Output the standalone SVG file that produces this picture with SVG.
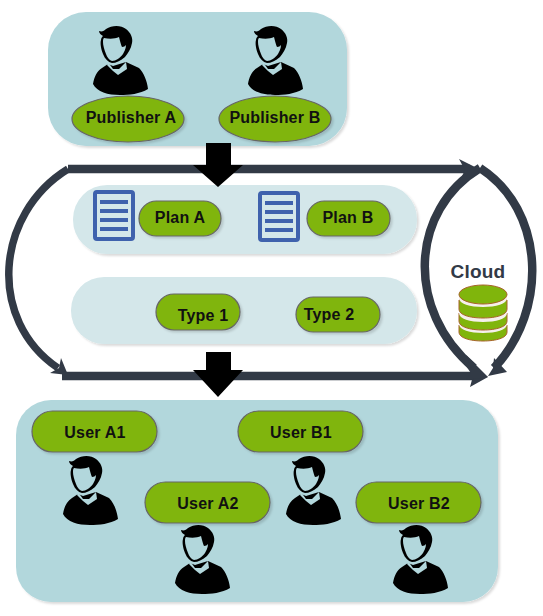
<svg xmlns="http://www.w3.org/2000/svg" width="543" height="616" viewBox="0 0 543 616">
<style>
.t{font-family:"Liberation Sans",Arial,sans-serif;font-size:16px;font-weight:700;fill:#111;text-anchor:middle;letter-spacing:.2px}
.panel{fill:#b2d7dc;filter:url(#s)}
.lp{fill:#d4e7ea;filter:url(#s)}
.g{fill:#80b50c;stroke:#666;stroke-width:1.2;filter:url(#s)}
.c{fill:none;stroke:#323a46;stroke-width:8.5}
.head{fill:#323a46}
.big{fill:#000}
.doc{fill:#d4e7ea;stroke:#3f62ad;stroke-width:4}
.dl{stroke:#3f62ad;stroke-width:4}
.db{fill:#80b50c;stroke:#a8632a;stroke-width:1}
.sl{fill:#f5f0ec;stroke:none}
</style>
<defs>
<filter id="s" x="-10%" y="-10%" width="125%" height="125%"><feDropShadow dx="2" dy="2" stdDeviation="1" flood-color="#000" flood-opacity=".14"/></filter>
<g id="person">
<path fill="#000" d="M0 58C1 51 4 45 9 42L15 38L20 40L33 36L46 42C51 47 54 55 55 63C47 68 36 69 27 69C15 69 4 66 0 58Z"/>
<path fill="#b2d7dc" d="M15 36L20 43L26 43L33 36L34 43L25 49L20 45L14 39Z"/>
<path fill="#000" d="M6 5C9 6 11 5 13 3C19-1 28-1 33 3C38 7 40 12 39 17C38 23 35 27 32 31C27 35 23 37 19 37C15 36 12 33 10 28C8 23 7 17 8 14C8 12 9 11 10 10C8 9 6 7 6 5Z"/>
<path fill="#b2d7dc" d="M11 12C16 13 22 13 26 11C27 15 28 19 29 21C31 21 32 20 33 19C33 23 31 26 30 28C27 32 23 35 19 35C16 34 14 31 13 28C11 23 10 19 10 16C10 14 10 13 11 12Z"/>
</g>
<g id="doc">
<rect class="doc" x="2" y="2" width="38" height="47" rx="2"/>
<path class="dl" d="M7 12H35M7 21H35M7 30H35M7 39H35"/>
</g>
</defs>

<g id="publishers">
<rect class="panel" x="48" y="12" width="299" height="134" rx="38"/>
</g>
<g id="plans-panel"><rect class="lp" x="73" y="185" width="344" height="69" rx="34"/></g>
<g id="types-panel"><rect class="lp" x="71" y="277" width="346" height="67" rx="33"/></g>
<g id="users">
<rect class="panel" x="16" y="400" width="482" height="202" rx="35"/>
</g>

<g id="connectors">
<path class="c" d="M68 169H470"/>
<path class="head" d="M459 159L481 170L462 176L465 170Z"/>
<path class="c" style="stroke-width:7.5" d="M68 169C-5 214-13 320 58 368"/>
<path class="head" d="M61 358L68 375L50 373L59 368Z"/>
<path class="c" d="M62 376H476"/>
<path class="head" d="M466 366L488 377L470 387L473 376Z"/>
<path class="c" d="M480 168C410 210 405 310 474 368"/>
<path class="head" d="M466 355L488 377L466 380L472 370Z"/>
<path class="c" d="M480 168C545 210 549 310 494 368"/>
<path class="head" d="M494 358L507 372L488 376L493 368Z"/>
<path class="big" d="M206 143H231V165H243L218 187L193 165H206Z"/>
<path class="big" d="M206 352H231V370H243L218 397L193 370H206Z"/>
</g>

<g id="publisher-a"><use href="#person" x="93" y="26"/><ellipse class="g" cx="128" cy="119" rx="56" ry="23"/><text class="t" x="131" y="123">Publisher A</text></g>
<g id="publisher-b"><use href="#person" x="248" y="26"/><ellipse class="g" cx="275" cy="119" rx="56" ry="23"/><text class="t" x="275" y="123">Publisher B</text></g>

<g id="plan-a"><use href="#doc" x="93" y="190"/><rect class="g" x="139" y="201" width="82" height="35" rx="17.5"/><text class="t" x="180" y="223">Plan A</text></g>
<g id="plan-b"><use href="#doc" x="258" y="191"/><rect class="g" x="307" y="201" width="83" height="35" rx="17.5"/><text class="t" x="348" y="223">Plan B</text></g>
<g id="type-1"><rect class="g" x="156" y="294" width="84" height="36" rx="18"/><text class="t" x="203" y="321">Type 1</text></g>
<g id="type-2"><rect class="g" x="296" y="297" width="84" height="35" rx="17.5"/><text class="t" x="329" y="320">Type 2</text></g>

<g id="cloud">
<text class="t" x="478" y="278" style="font-size:19px;fill:#323a46">Cloud</text>
<path class="db" d="M459 325V332C459 338 470 341 483 341C496 341 507 338 507 332V325Z"/>
<path class="sl" d="M459 318V324C459 330 470 333 483 333C496 333 507 330 507 324V318Z"/>
<path class="db" d="M459 313V321C459 327 470 330 483 330C496 330 507 327 507 321V313Z"/>
<path class="sl" d="M459 306V313C459 319 470 322 483 322C496 322 507 319 507 313V306Z"/>
<path class="db" d="M459 300V309C459 315 470 318 483 318C496 318 507 315 507 309V300Z"/>
<path class="sl" d="M459 294V298C459 304 470 307 483 307C496 307 507 304 507 298V294Z"/>
<ellipse class="db" cx="483" cy="294.5" rx="24" ry="9.5"/>
</g>

<g id="user-a1"><use href="#person" x="63" y="456"/><rect class="g" x="32" y="411" width="125" height="41" rx="20.5"/><text class="t" x="95" y="438">User A1</text></g>
<g id="user-a2"><use href="#person" x="175" y="525"/><rect class="g" x="145" y="482" width="125" height="41" rx="20.5"/><text class="t" x="208" y="509">User A2</text></g>
<g id="user-b1"><use href="#person" x="286" y="456"/><rect class="g" x="238" y="411" width="125" height="41" rx="20.5"/><text class="t" x="301" y="438">User B1</text></g>
<g id="user-b2"><use href="#person" x="393" y="525"/><rect class="g" x="356" y="482" width="125" height="41" rx="20.5"/><text class="t" x="419" y="509">User B2</text></g>
</svg>
